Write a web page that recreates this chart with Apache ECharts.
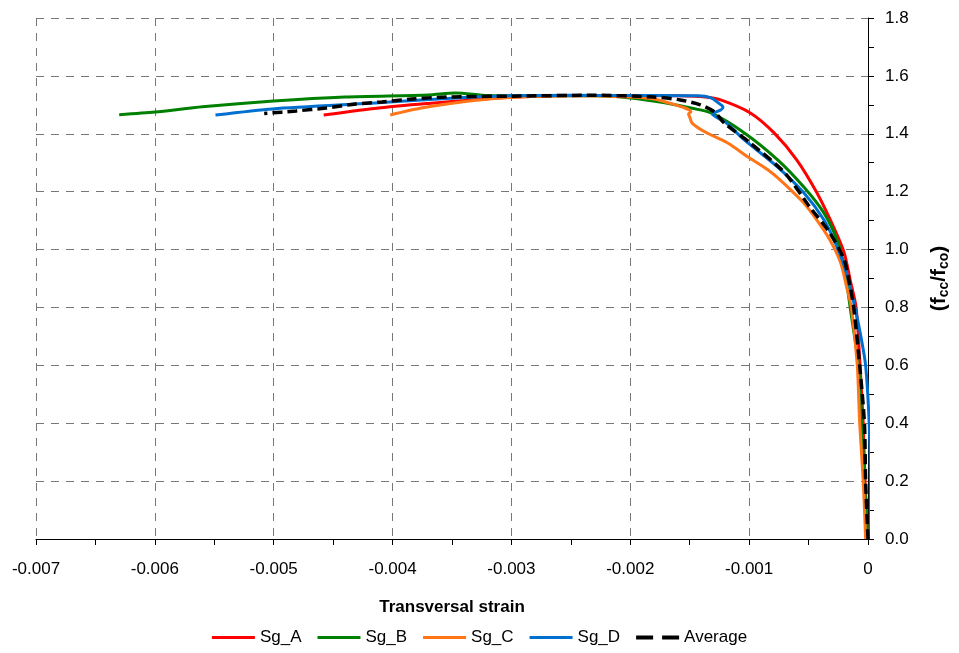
<!DOCTYPE html>
<html>
<head>
<meta charset="utf-8">
<script src="https://cdn.jsdelivr.net/npm/echarts@6/dist/echarts.min.js"></script>
<style>html,body{margin:0;padding:0;background:#fff}#c{width:959px;height:653px}</style>
</head>
<body>
<div id="c"></div>
<script>
const seriesNames = ['Sg_A', 'Sg_B', 'Sg_C', 'Sg_D', 'Average'];
const xTickLabels = ['-0.007', '-0.006', '-0.005', '-0.004', '-0.003', '-0.002', '-0.001', '0'];

const xA = [0, -0.000025, -0.00004, -0.000067, -0.0001, -0.00015, -0.0002, -0.00029, -0.00043, -0.0006, -0.00079, -0.00099, -0.00124, -0.00137, -0.0016, -0.002, -0.0025, -0.003, -0.0033, -0.0037, -0.0041, -0.00458];
const yA = [0, 0.2, 0.4, 0.6, 0.8, 0.895, 0.988, 1.078, 1.196, 1.31, 1.403, 1.472, 1.517, 1.527, 1.531, 1.532, 1.532, 1.526, 1.518, 1.505, 1.49, 1.465];

const xB = [0, -0.00003, -0.00005, -0.00008, -0.00015, -0.0002, -0.00026, -0.00037, -0.00054, -0.00076, -0.00104, -0.00132, -0.00148, -0.00171, -0.002, -0.00227, -0.0028, -0.0032, -0.00347, -0.0037, -0.0044, -0.005, -0.0056, -0.006, -0.0063];
const yB = [0, 0.2, 0.4, 0.6, 0.8, 0.94, 1.033, 1.126, 1.216, 1.31, 1.403, 1.472, 1.488, 1.507, 1.524, 1.531, 1.531, 1.532, 1.541, 1.534, 1.527, 1.513, 1.493, 1.475, 1.466];

const xC = [-0.00002, -0.00004, -0.00007, -0.00009, -0.00014, -0.00018, -0.00023, -0.00032, -0.00043, -0.00054, -0.00065, -0.00074, -0.00084, -0.00101, -0.00118, -0.00137, -0.00148, -0.0015, -0.00151, -0.00149, -0.00154, -0.00168, -0.0018, -0.002, -0.0025, -0.00308, -0.00342, -0.00376, -0.00402];
const yC = [0, 0.2, 0.4, 0.6, 0.8, 0.871, 0.954, 1.033, 1.102, 1.161, 1.206, 1.241, 1.275, 1.32, 1.368, 1.406, 1.437, 1.458, 1.468, 1.476, 1.489, 1.507, 1.52, 1.527, 1.531, 1.524, 1.51, 1.489, 1.465];

const xD = [0.00002, 0.00002, 0.00001, -0.00002, -0.00006, -0.00011, -0.00018, -0.00026, -0.00037, -0.00054, -0.00076, -0.00104, -0.0012, -0.00131, -0.00124, -0.00122, -0.00127, -0.00132, -0.00143, -0.002, -0.0025, -0.003, -0.00347, -0.00412, -0.00501, -0.00549];
const yD = [0, 0.2, 0.4, 0.6, 0.7, 0.8, 0.919, 1.009, 1.102, 1.196, 1.285, 1.379, 1.44, 1.468, 1.482, 1.492, 1.51, 1.524, 1.531, 1.532, 1.533, 1.531, 1.524, 1.507, 1.486, 1.465];

const xAvg = [0, -0.00002, -0.00003, -0.00007, -0.00012, -0.00015, -0.0002, -0.00032, -0.00049, -0.0007, -0.00099, -0.00121, -0.00129, -0.00141, -0.00158, -0.0018, -0.0023, -0.003, -0.00355, -0.00384, -0.00409, -0.00431, -0.00456, -0.00481, -0.00508];
const yAvg = [0, 0.2, 0.4, 0.6, 0.8, 0.871, 0.964, 1.057, 1.147, 1.265, 1.368, 1.437, 1.475, 1.5, 1.517, 1.527, 1.533, 1.53, 1.527, 1.52, 1.51, 1.503, 1.489, 1.479, 1.47];

const colors = ['#ff0000', '#008000', '#ff7518', '#0070d0', '#000000'];
const xs = [xA, xB, xC, xD, xAvg];
const ys = [yA, yB, yC, yD, yAvg];

const FONT = 'Liberation Sans';
const SOLID_ICON = 'path://M0,0L43,0L43,3L0,3Z';
const DASH_ICON = 'path://M0,0L17,0L17,4L0,4ZM26,0L43,0L43,4L26,4Z';
const chart = echarts.init(document.getElementById('c'), null, {renderer: 'canvas'});
const series = seriesNames.map((n, i) => ({
  name: n,
  type: 'line',
  symbol: 'none',
  smooth: 0.25,
  data: xs[i].map((x, k) => [x, ys[i][k]]),
  lineStyle: {color: colors[i], width: i === 4 ? 3.5 : 3, type: i === 4 ? [10, 5] : 'solid'},
  itemStyle: {color: colors[i]},
  z: 2 + i
}));

chart.setOption({
  animation: false,
  grid: {left: 36, right: 88, top: 18, bottom: 114, containLabel: false},
  legend: {
    bottom: 2,
    left: 'center',
    itemWidth: 43,
    itemHeight: 12,
    itemGap: 16,
    textStyle: {fontFamily: FONT, fontSize: 17, color: '#000'},
    data: seriesNames.map((n, i) => ({name: n, icon: i === 4 ? DASH_ICON : SOLID_ICON}))
  },
  xAxis: {
    type: 'value',
    min: -0.007, max: 0, interval: 0.001,
    position: 'bottom',
    name: 'Transversal strain',
    nameLocation: 'middle',
    nameGap: 60,
    nameTextStyle: {fontFamily: FONT, fontSize: 17, fontWeight: 'bold', color: '#000'},
    axisLine: {onZero: false, lineStyle: {color: '#000', width: 1}},
    axisTick: {show: true, length: 6, inside: false, lineStyle: {color: '#000'}},
    minorTick: {show: true, splitNumber: 2, length: 6, lineStyle: {color: '#000'}},
    axisLabel: {
      margin: 22, fontFamily: FONT, fontSize: 17, color: '#000',
      formatter: v => xTickLabels[Math.round((v + 0.007) / 0.001)]
    },
    splitLine: {show: true, lineStyle: {color: '#777', type: [8, 7], width: 1}}
  },
  yAxis: {
    type: 'value',
    min: 0, max: 1.8, interval: 0.2,
    position: 'right',
    name: '(f{s|cc}/f{s|co})',
    nameLocation: 'middle',
    nameRotate: 90,
    nameGap: 60,
    nameTextStyle: {
      fontFamily: FONT, fontSize: 21, fontWeight: 'bold', color: '#000',
      rich: {s: {fontFamily: FONT, fontSize: 14, fontWeight: 'bold', color: '#000', verticalAlign: 'bottom', padding: [9, 0, 0, 0]}}
    },
    axisLine: {lineStyle: {color: '#000', width: 1}},
    axisTick: {show: true, length: 6, lineStyle: {color: '#000'}},
    minorTick: {show: true, splitNumber: 2, length: 6, lineStyle: {color: '#000'}},
    axisLabel: {margin: 17, fontFamily: FONT, fontSize: 17, color: '#000', formatter: v => v.toFixed(1)},
    splitLine: {show: true, lineStyle: {color: '#777', type: [8, 7], width: 1}}
  },
  series: series
});
</script>
</body>
</html>
